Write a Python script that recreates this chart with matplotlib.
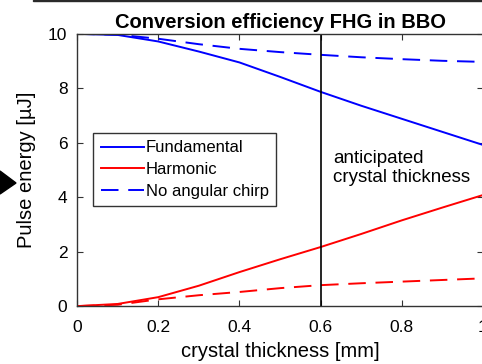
import numpy as np
import matplotlib.pyplot as plt
from matplotlib.patches import Polygon, Rectangle

plt.rcParams['font.family'] = ['Liberation Sans', 'DejaVu Sans']

# crystal thickness [mm]
thickness = [0.0, 0.1, 0.2, 0.3, 0.4, 0.5, 0.6, 0.7, 0.8, 0.9, 1.0]
# pulse energy [uJ]
fundamental = [10.0, 9.96, 9.72, 9.35, 8.95, 8.42, 7.87, 7.36, 6.88, 6.40, 5.92]
harmonic = [0.0, 0.08, 0.33, 0.75, 1.25, 1.72, 2.17, 2.65, 3.15, 3.62, 4.08]
fund_no_chirp = [10.0, 9.97, 9.82, 9.62, 9.45, 9.33, 9.23, 9.14, 9.07, 9.01, 8.97]
harm_no_chirp = [0.0, 0.05, 0.25, 0.40, 0.52, 0.66, 0.77, 0.84, 0.90, 0.96, 1.02]
anticipated = 0.6

fig = plt.figure(figsize=(4.82, 3.64), dpi=100)
ax = fig.add_axes([0.16, 0.159, 0.842, 0.748])

ax.plot(thickness, fundamental, color='#0000ff', lw=1.4, label='Fundamental')
ax.plot(thickness, harmonic, color='#ff0000', lw=1.4, label='Harmonic')
ax.plot(thickness, fund_no_chirp, color='#0000ff', lw=1.4, dashes=(9, 5), label='No angular chirp')
ax.plot(thickness, harm_no_chirp, color='#ff0000', lw=1.4, dashes=(9, 5))
ax.axvline(anticipated, color='black', lw=1.2)

ax.text(0.63, 5.75, 'anticipated\ncrystal thickness', fontsize=13.5, va='top', linespacing=1.2)

ax.set_xlim(0, 1)
ax.set_ylim(0, 10)
ax.set_xticks([0, 0.2, 0.4, 0.6, 0.8, 1])
ax.set_xticklabels(['0', '0.2', '0.4', '0.6', '0.8', '1'])
ax.set_yticks([0, 2, 4, 6, 8, 10])
ax.tick_params(direction='in', top=True, right=True, length=4, labelsize=12.5, color='#333333')
ax.tick_params(axis='x', pad=10)
ax.tick_params(axis='y', pad=7)
for s in ax.spines.values():
    s.set_color('#333333')
    s.set_linewidth(1.0)

ax.set_title('Conversion efficiency FHG in BBO', fontsize=14.5, fontweight='bold', pad=4)
ax.set_xlabel('crystal thickness [mm]', fontsize=14.5, labelpad=5)
ax.set_ylabel('Pulse energy [\u00b5J]', fontsize=14.5, labelpad=9)

leg = ax.legend(loc='upper left', bbox_to_anchor=(0.04, 0.636), fontsize=12,
                handlelength=2.6, handletextpad=0.1, borderpad=0.45, labelspacing=0.4,
                fancybox=False, framealpha=1, edgecolor='#333333', borderaxespad=0)
leg.get_frame().set_linewidth(1.0)

# black arrow on the left edge and dark strip at the top
fig.patches.append(Polygon([[0, 170 / 364], [16 / 482, 181 / 364], [0, 193 / 364]],
                           closed=True, color='black', transform=fig.transFigure))
fig.patches.append(Rectangle((33 / 482, 1 - 1.2 / 364), 1, 1.2 / 364, color='#2a2a2a',
                             transform=fig.transFigure))

fig.savefig('out.png', dpi=100)
